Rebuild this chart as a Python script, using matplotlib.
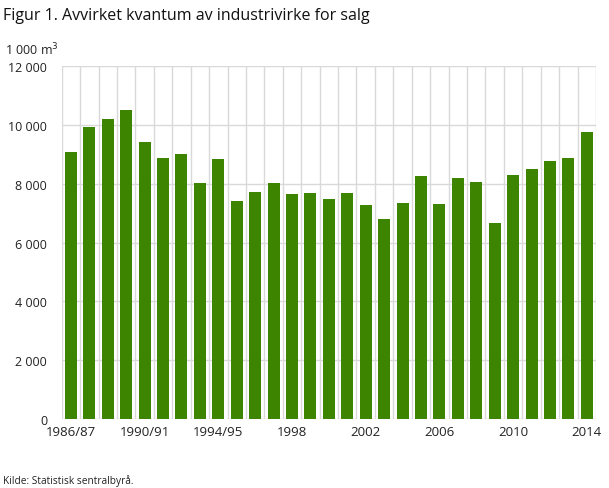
import numpy as np
import matplotlib
matplotlib.use("Agg")
import matplotlib.pyplot as plt

# --- data (1 000 m3) ---
years = ["1986/87", "1987/88", "1988/89", "1989/90", "1990/91", "1991/92",
         "1992/93", "1993/94", "1994/95"] + [str(y) for y in range(1995, 2015)]
volume = [9100, 9950, 10220, 10520, 9440, 8890, 9030, 8045, 8860,
          7400, 7740, 8045, 7670, 7705, 7470, 7705, 7265, 6790, 7365,
          8280, 7300, 8215, 8080, 6655, 8315, 8520, 8790, 8890, 9775]
label_every = 4
yticks = [0, 2000, 4000, 6000, 8000, 10000, 12000]

GREEN = "#3d8500"
GRID = "#d9d9d9"
plt.rcParams["font.family"] = ["Open Sans", "DejaVu Sans"]

fig = plt.figure(figsize=(6.09, 4.89), dpi=100)
ax = fig.add_axes([0.1013, 0.1411, 0.8774, 0.7213])

x = np.arange(len(years))
ax.bar(x, volume, width=0.65, color=GREEN, zorder=3)

ax.set_xlim(-0.5, len(years) - 0.5)
ax.set_ylim(0, 12000)

# vertical grid between categories, horizontal at y ticks
for b in np.arange(-0.5, len(years), 1.0):
    ax.axvline(b, color=GRID, lw=1.0, zorder=1)
for t in yticks:
    ax.axhline(t, color=GRID, lw=1.0, zorder=1)

ax.set_yticks(yticks)
ax.set_yticklabels([f"{t:,}".replace(",", " ") for t in yticks], fontsize=9, color="#222222")
ax.set_xticks(x[::label_every])
ax.set_xticklabels(years[::label_every], fontsize=9.5, color="#222222")
ax.tick_params(axis="y", length=0, pad=10.5)
ax.tick_params(axis="x", length=0, pad=4.5)
for s in ax.spines.values():
    s.set_visible(False)

fig.text(0.005, 0.967, "Figur 1. Avvirket kvantum av industrivirke for salg",
         fontsize=11.5, color="#111111", va="center", ha="left",
         family=["Liberation Sans Narrow", "Open Sans", "DejaVu Sans"])
fig.text(0.009, 0.897, "1 000 m$^3$", fontsize=9, color="#222222", va="center", ha="left")
fig.text(0.005, 0.017, "Kilde: Statistisk sentralbyrå.", fontsize=7.3, color="#222222",
         va="center", ha="left")

fig.savefig("out.png", dpi=100)
